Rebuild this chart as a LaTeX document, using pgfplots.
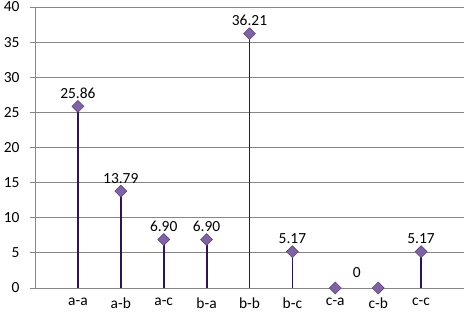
\documentclass[border=0pt]{standalone}
\usepackage{pgfplots}
\pgfplotsset{compat=1.18}
\usepackage{fontspec}
\setmainfont{Carlito}
\definecolor{stem}{HTML}{2F1450}
\definecolor{mk}{HTML}{8064A2}
\definecolor{mkd}{HTML}{5C4580}
\definecolor{gridc}{HTML}{868686}
\newcommand{\lblfont}{\fontsize{15.5}{18}\selectfont}
\begin{document}
\begin{tikzpicture}
\begin{axis}[
  at={(0,0)}, anchor=south west,
  scale only axis, width=429bp, height=281bp,
  xmin=0, xmax=10, ymin=0, ymax=40,
  xtick={1,...,9},
  xticklabels={a-a,a-b,a-c,b-a,b-b,b-c,c-a,c-b,c-c},
  ytick={0,5,...,40},
  axis x line*=bottom, axis y line*=left,
  axis line style={gridc, line width=0.8pt},
  ymajorgrids, grid style={gridc, line width=0.8pt},
  tick align=outside, major tick length=5bp,
  xtick style={draw=none}, ytick style={gridc, line width=0.8pt},
  /pgf/number format/assume math mode=true,
  ticklabel style={font=\lblfont, text=black},
  yticklabel style={xshift=-7bp},
  xticklabel style={yshift=-1bp},
  clip=false,
]
\addplot[ycomb, stem, line width=1.8bp, mark=square*, mark size=4.2bp,
  mark options={rotate=45, fill=mk, draw=mkd, line width=0.6pt},
  nodes near coords, point meta=explicit symbolic,
  every node near coord/.append style={font=\lblfont, text=black, yshift=4bp}]
coordinates {
(1,25.86) [25.86]
(2,13.79) [13.79]
(3,6.90) [6.90]
(4,6.90) [6.90]
(5,36.21) [36.21]
(6,5.17) [5.17]
(9,5.17) [5.17]
};
\addplot[only marks, mark=square*, mark size=4.2bp,
  mark options={rotate=45, fill=mk, draw=mkd, line width=0.6pt}]
coordinates {(7,0) (8,0)};
\node[font=\lblfont, anchor=south, inner sep=0pt] at (axis cs:7.5,0) [yshift=10bp] {0};
\end{axis}
\pgfresetboundingbox
\useasboundingbox (-35bp,-24bp) rectangle (432bp,288bp);
\end{tikzpicture}
\end{document}
